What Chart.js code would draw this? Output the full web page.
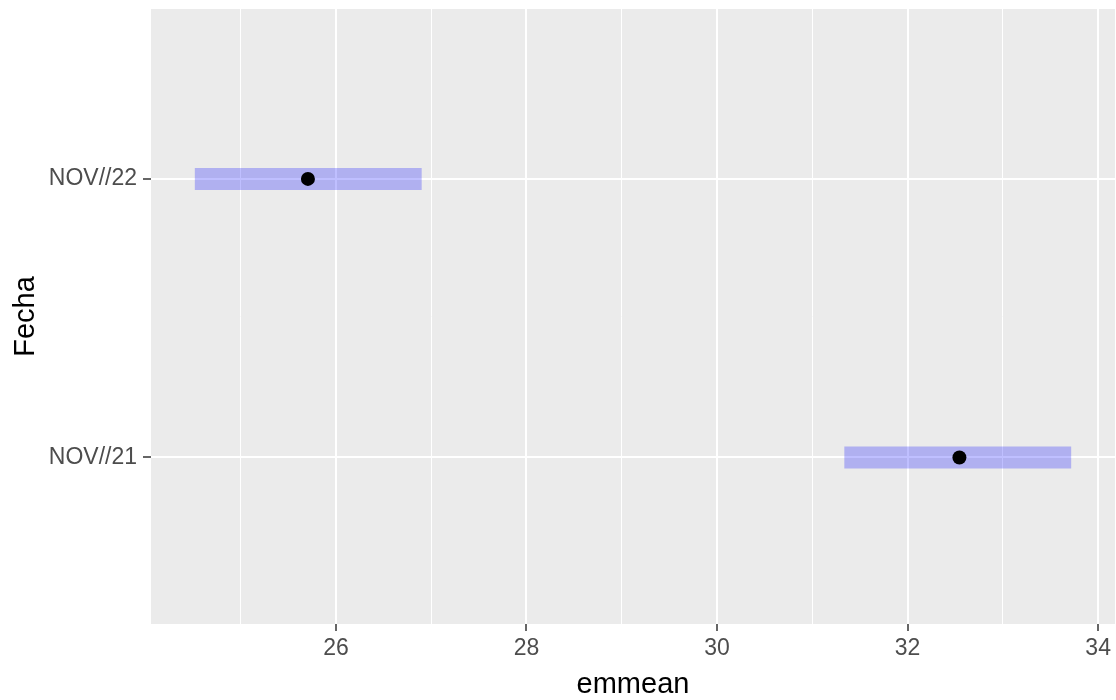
<!DOCTYPE html>
<html>
<head>
<meta charset="utf-8">
<script src="https://cdn.jsdelivr.net/npm/chart.js@4/dist/chart.umd.min.js"></script>
<style>
  html, body { margin: 0; padding: 0; background: #ffffff; }
  #wrap { width: 1116px; height: 700px; }
</style>
</head>
<body>
<div id="wrap"><canvas id="chart_emmean"></canvas></div>
<script>
// emmeans por fecha, con intervalo de confianza
var fechas = ['NOV//21', 'NOV//22'];
var emmean = [32.544, 25.706];
var lowerCL = [31.336, 24.519];
var upperCL = [33.717, 26.900];
var xTicks = [25, 26, 27, 28, 29, 30, 31, 32, 33, 34];

var puntos = fechas.map(function (f, i) { return {x: emmean[i], y: i + 1}; });
var barras = fechas.map(function (f, i) {
    return {
        type: 'line',
        label: f + ' CL',
        data: [{x: lowerCL[i], y: i + 1}, {x: upperCL[i], y: i + 1}],
        borderColor: 'rgba(0,0,255,0.25)',
        borderWidth: 22,
        borderCapStyle: 'butt',
        pointRadius: 0,
        showLine: true,
        order: 1
    };
});

function sinPadding(scale) {
    scale.paddingTop = 0;
    scale.paddingBottom = 0;
    scale.paddingLeft = 0;
    scale.paddingRight = 0;
}

var chart_emmean = new Chart(document.getElementById('chart_emmean'), {
    type: 'scatter',
    data: {
        datasets: [
            {
                label: 'emmean',
                data: puntos,
                backgroundColor: '#000000',
                borderWidth: 0,
                pointRadius: 7,
                order: 0
            }
        ].concat(barras)
    },
    options: {
        animation: false,
        responsive: true,
        maintainAspectRatio: false,
        layout: { autoPadding: false, padding: { top: 9, right: 1, left: 0, bottom: 0 } },
        plugins: {
            legend: { display: false },
            tooltip: { enabled: false }
        },
        scales: {
            x: {
                type: 'linear',
                min: 24.059,
                max: 34.177,
                afterBuildTicks: function (scale) {
                    scale.ticks = xTicks.map(function (v) { return {value: v}; });
                },
                afterFit: function (scale) { scale.height = 76; sinPadding(scale); },
                border: { display: false },
                grid: {
                    color: '#ffffff',
                    lineWidth: function (c) { return c.tick && c.tick.value % 2 === 0 ? 2 : 1; },
                    tickColor: function (c) { return c.tick && c.tick.value % 2 === 0 ? '#333333' : 'rgba(0,0,0,0)'; },
                    tickWidth: 1.5,
                    tickLength: 7
                },
                ticks: {
                    autoSkip: false,
                    maxRotation: 0,
                    padding: 4,
                    color: '#4d4d4d',
                    font: { family: 'Liberation Sans', size: 23 },
                    callback: function (value) { return value % 2 === 0 ? String(value) : ''; }
                },
                title: {
                    display: true,
                    text: 'emmean',
                    color: '#000000',
                    font: { family: 'Liberation Sans', size: 29 },
                    padding: { top: 0, bottom: -2 }
                }
            },
            y: {
                type: 'linear',
                min: 0.402,
                max: 2.61,
                afterBuildTicks: function (scale) {
                    scale.ticks = fechas.map(function (f, i) { return {value: i + 1}; });
                },
                afterFit: function (scale) { scale.width = 151; sinPadding(scale); },
                border: { display: false },
                grid: {
                    color: '#ffffff',
                    lineWidth: 2,
                    tickColor: '#333333',
                    tickWidth: 1.5,
                    tickLength: 8
                },
                ticks: {
                    autoSkip: false,
                    padding: 6,
                    color: '#4d4d4d',
                    font: { family: 'Liberation Sans', size: 23 },
                    callback: function (value) { return fechas[value - 1]; }
                },
                title: {
                    display: true,
                    text: 'Fecha',
                    color: '#000000',
                    font: { family: 'Liberation Sans', size: 29 },
                    padding: { top: 9, bottom: 0 }
                }
            }
        }
    },
    plugins: [{
        id: 'panelBackground',
        beforeDraw: function (chart) {
            var ctx = chart.ctx;
            var a = chart.chartArea;
            ctx.save();
            ctx.fillStyle = '#ffffff';
            ctx.fillRect(0, 0, chart.width, chart.height);
            ctx.fillStyle = '#ebebeb';
            ctx.fillRect(a.left, a.top, a.right - a.left, a.bottom - a.top);
            ctx.restore();
        }
    }]
});
</script>
</body>
</html>
